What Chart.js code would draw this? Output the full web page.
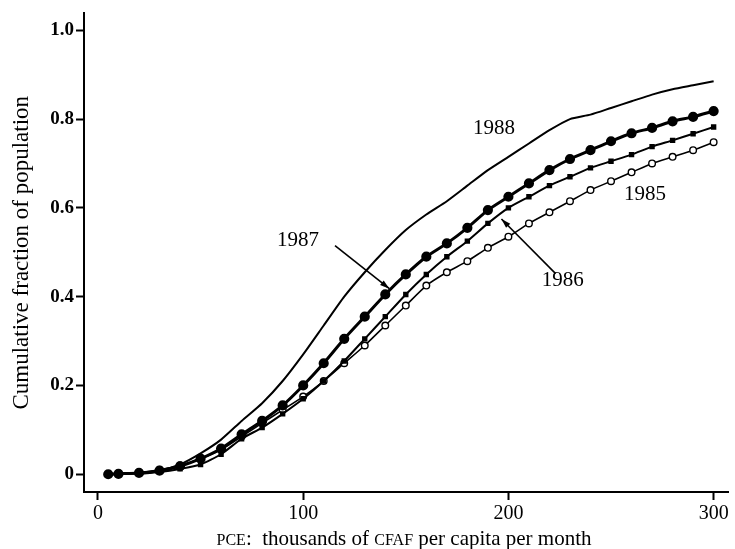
<!DOCTYPE html>
<html>
<head>
<meta charset="utf-8">
<script src="https://cdn.jsdelivr.net/npm/chart.js@4.4.1/dist/chart.umd.min.js"></script>
<style>
  html, body { margin: 0; padding: 0; background: #fff; }
  canvas { display: block; }
</style>
</head>
<body>
<canvas id="chart" width="735" height="549"></canvas>
<script>
// PCE in thousands of CFAF per capita per month
const x1988 = [5, 10, 20, 30, 40, 50, 60, 70, 80, 90, 100, 110, 120, 130, 140, 150, 160, 170, 180, 190, 200, 210, 220, 230, 240, 250, 260, 270, 280, 290, 300];
const y1988 = [0, 0, 0.003, 0.008, 0.022, 0.047, 0.078, 0.12, 0.16, 0.21, 0.27, 0.335, 0.40, 0.455, 0.505, 0.55, 0.585, 0.615, 0.65, 0.685, 0.715, 0.745, 0.775, 0.80, 0.81, 0.825, 0.84, 0.855, 0.867, 0.876, 0.885];

const x1987 = [5, 10, 20, 30, 40, 50, 60, 70, 80, 90, 100, 110, 120, 130, 140, 150, 160, 170, 180, 190, 200, 210, 220, 230, 240, 250, 260, 270, 280, 290, 300];
const y1987 = [0, 0.001, 0.003, 0.008, 0.018, 0.035, 0.058, 0.09, 0.12, 0.155, 0.20, 0.25, 0.305, 0.355, 0.405, 0.45, 0.49, 0.52, 0.555, 0.595, 0.625, 0.655, 0.685, 0.71, 0.73, 0.75, 0.768, 0.78, 0.795, 0.805, 0.818];

const x1986 = [20, 30, 40, 50, 60, 70, 80, 90, 100, 110, 120, 130, 140, 150, 160, 170, 180, 190, 200, 210, 220, 230, 240, 250, 260, 270, 280, 290, 300];
const y1986 = [0.001, 0.005, 0.012, 0.022, 0.045, 0.08, 0.105, 0.136, 0.17, 0.21, 0.255, 0.305, 0.355, 0.405, 0.45, 0.49, 0.525, 0.565, 0.60, 0.625, 0.65, 0.67, 0.69, 0.705, 0.72, 0.738, 0.752, 0.767, 0.782];

const x1985 = [10, 20, 30, 40, 50, 60, 70, 80, 90, 100, 110, 120, 130, 140, 150, 160, 170, 180, 190, 200, 210, 220, 230, 240, 250, 260, 270, 280, 290, 300];
const y1985 = [0, 0.003, 0.01, 0.02, 0.035, 0.055, 0.085, 0.115, 0.145, 0.175, 0.21, 0.25, 0.29, 0.335, 0.38, 0.425, 0.455, 0.48, 0.51, 0.535, 0.565, 0.59, 0.615, 0.64, 0.66, 0.68, 0.70, 0.715, 0.73, 0.748];

const xTicks = [0, 100, 200, 300];
const yTicks = [0, 0.2, 0.4, 0.6, 0.8, 1.0];

// year labels and arrows, in data units
const yearLabels = [
    { text: '1988', x: 193, y: 0.778 },
    { text: '1987', x: 97.5, y: 0.526 },
    { text: '1985', x: 266.5, y: 0.631 },
    { text: '1986', x: 226.5, y: 0.436 }
];
const arrows = [
    { from: [115.5, 0.515], to: [142, 0.418] },
    { from: [223, 0.452], to: [196.6, 0.575] }
];

const serif = '"Liberation Serif", "DejaVu Serif", serif';

function toPoints(xs, ys) {
    return xs.map((x, i) => ({ x: x, y: ys[i] }));
}

const annotate = {
    id: 'annotate',
    afterDatasetsDraw(chart) {
        const ctx = chart.ctx;
        const sx = chart.scales.x, sy = chart.scales.y;
        ctx.save();
        ctx.fillStyle = '#000';
        ctx.strokeStyle = '#000';
        ctx.font = '21px ' + serif;
        ctx.textAlign = 'center';
        ctx.textBaseline = 'middle';
        yearLabels.forEach(l => {
            ctx.fillText(l.text, sx.getPixelForValue(l.x), sy.getPixelForValue(l.y));
        });
        ctx.lineWidth = 1.6;
        arrows.forEach(a => {
            const x0 = sx.getPixelForValue(a.from[0]), y0 = sy.getPixelForValue(a.from[1]);
            const x1 = sx.getPixelForValue(a.to[0]), y1 = sy.getPixelForValue(a.to[1]);
            const ang = Math.atan2(y1 - y0, x1 - x0);
            ctx.beginPath();
            ctx.moveTo(x0, y0);
            ctx.lineTo(x1, y1);
            ctx.stroke();
            ctx.beginPath();
            ctx.moveTo(x1, y1);
            ctx.lineTo(x1 - 10 * Math.cos(ang - 0.3), y1 - 10 * Math.sin(ang - 0.3));
            ctx.lineTo(x1 - 10 * Math.cos(ang + 0.3), y1 - 10 * Math.sin(ang + 0.3));
            ctx.closePath();
            ctx.fill();
        });

        // x axis title, with PCE and CFAF in small capitals
        const parts = [
            { t: 'PCE', f: '16px ' + serif },
            { t: ':  thousands of ', f: '21px ' + serif },
            { t: 'CFAF', f: '16px ' + serif },
            { t: ' per capita per month', f: '21px ' + serif }
        ];
        let total = 0;
        parts.forEach(p => { ctx.font = p.f; p.w = ctx.measureText(p.t).width; total += p.w; });
        let px = 404 - total / 2;
        ctx.textAlign = 'left';
        ctx.textBaseline = 'alphabetic';
        parts.forEach(p => {
            ctx.font = p.f;
            ctx.fillText(p.t, px, 545);
            px += p.w;
        });
        ctx.restore();
    }
};

const ctx = document.getElementById('chart').getContext('2d');
const myChart = new Chart(ctx, {
    type: 'line',
    data: {
        datasets: [
            {
                label: '1988',
                data: toPoints(x1988, y1988),
                borderColor: '#000',
                borderWidth: 2,
                pointRadius: 0,
                tension: 0.2
            },
            {
                label: '1987',
                data: toPoints(x1987, y1987),
                borderColor: '#000',
                backgroundColor: '#000',
                borderWidth: 3,
                pointRadius: 3.6,
                pointStyle: 'circle',
                tension: 0.2
            },
            {
                label: '1986',
                data: toPoints(x1986, y1986),
                borderColor: '#000',
                backgroundColor: '#000',
                borderWidth: 2,
                pointRadius: 2.4,
                pointStyle: 'rect',
                tension: 0.2
            },
            {
                label: '1985',
                data: toPoints(x1985, y1985),
                borderColor: '#000',
                backgroundColor: '#fff',
                borderWidth: 1.6,
                pointRadius: 3.3,
                pointBorderWidth: 1.4,
                pointStyle: 'circle',
                tension: 0.2
            }
        ]
    },
    options: {
        responsive: false,
        animation: false,
        layout: { padding: { top: 12, right: 2, left: 0, bottom: 0 } },
        plugins: {
            legend: { display: false },
            tooltip: { enabled: false }
        },
        scales: {
            x: {
                type: 'linear',
                min: -6.8,
                max: 307,
                afterBuildTicks: axis => { axis.ticks = xTicks.map(v => ({ value: v })); },
                afterFit: axis => { axis.height = 57; },
                ticks: {
                    color: '#000',
                    font: { family: serif, size: 20 },
                    padding: 2,
                    maxRotation: 0
                },
                grid: {
                    drawOnChartArea: false,
                    drawTicks: true,
                    tickLength: 8,
                    tickWidth: 2,
                    tickColor: '#000'
                },
                border: { display: true, color: '#000', width: 2 }
            },
            y: {
                type: 'linear',
                min: -0.04,
                max: 1.038,
                afterBuildTicks: axis => { axis.ticks = yTicks.map(v => ({ value: v })); },
                afterFit: axis => { axis.width = 84; },
                ticks: {
                    color: '#000',
                    font: { family: serif, size: 19, weight: 'bold' },
                    padding: 2,
                    callback: v => (v === 0 ? '0' : v.toFixed(1))
                },
                grid: {
                    drawOnChartArea: false,
                    drawTicks: true,
                    tickLength: 8,
                    tickWidth: 2,
                    tickColor: '#000'
                },
                border: { display: true, color: '#000', width: 2 },
                title: {
                    display: true,
                    text: 'Cumulative fraction of population',
                    color: '#000',
                    font: { family: serif, size: 23 },
                    padding: { top: 8, bottom: 0 }
                }
            }
        }
    },
    plugins: [annotate]
});
</script>
</body>
</html>
